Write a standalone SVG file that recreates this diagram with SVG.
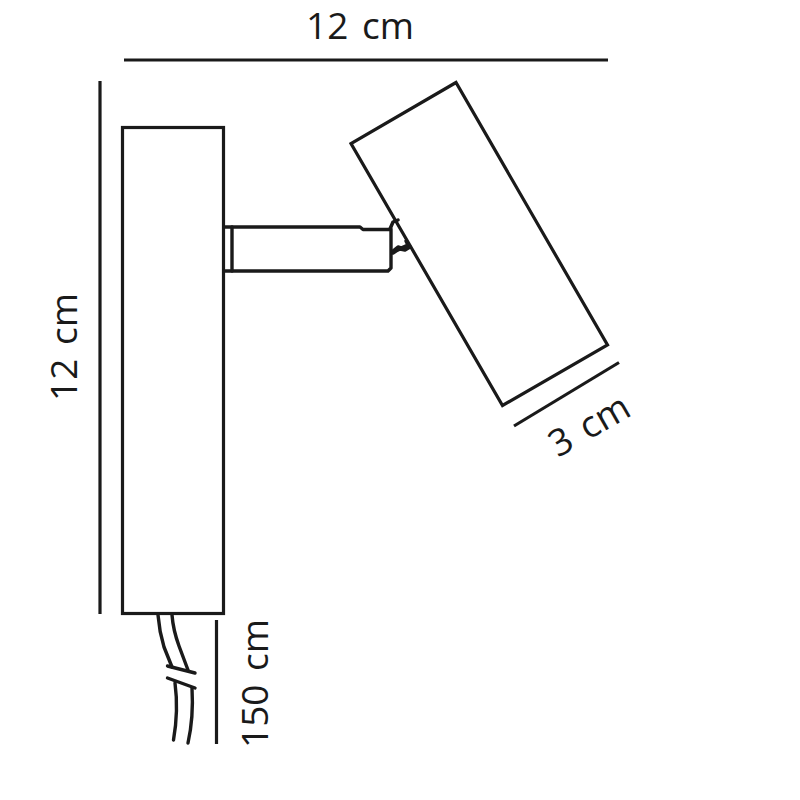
<svg xmlns="http://www.w3.org/2000/svg" width="800" height="800" viewBox="0 0 800 800">
<style>
.l{fill:none;stroke:#1a1a1a;stroke-width:3.200;stroke-linejoin:miter}
.c{fill:none;stroke:#1a1a1a;stroke-width:3.400;stroke-linecap:round;stroke-linejoin:round}
.t{font-family:"Open Sans","Noto Sans",sans-serif;font-size:37px;fill:#1a1a1a;word-spacing:4px}
</style>
<rect width="800" height="800" fill="#fff"/>
<g id="backplate"><rect class="l" x="122.500" y="127.500" width="101" height="486"/></g>
<g id="arm">
<path class="c" d="M224 227H360L363 229.500H390"/>
<path class="c" d="M224 271H388L391 268V229"/>
<path class="c" d="M232 227V271"/>
<path class="c" style="stroke-width:3.500" d="M390 229L393 222L398 220M393 253L396 251L400 249L405 250L410 247M393 251L398 247L401 248L408 245L406 241"/>
</g>
<g id="spot-head"><path class="l" d="M456 82.500L351 143.500L502.500 405.500L607.500 345Z"/></g>
<g id="cable">
<path class="c" d="M158 615C159 628 161 637 164 647L172 667M175 683C177 698 177 720 173.500 740"/>
<path class="c" d="M172 615C173 628 175 635 179 646L188 670M192 688C193 705 192 725 188 743"/>
<path class="c" d="M167.500 666L195 673M167.500 678L195 688"/>
</g>
<g id="dimensions">
<path class="l" d="M124 60H608"/>
<path class="l" d="M100 81V614"/>
<path class="l" d="M514 426L619 362.500"/>
<path class="l" d="M216.500 620V744"/>
<text class="t" x="306" y="39">12 cm</text>
<text class="t" transform="translate(77 401) rotate(-90)">12 cm</text>
<text class="t" transform="translate(558 458) rotate(-30)">3 cm</text>
<text class="t" transform="translate(268 748) rotate(-90)">150 cm</text>
</g>
</svg>
